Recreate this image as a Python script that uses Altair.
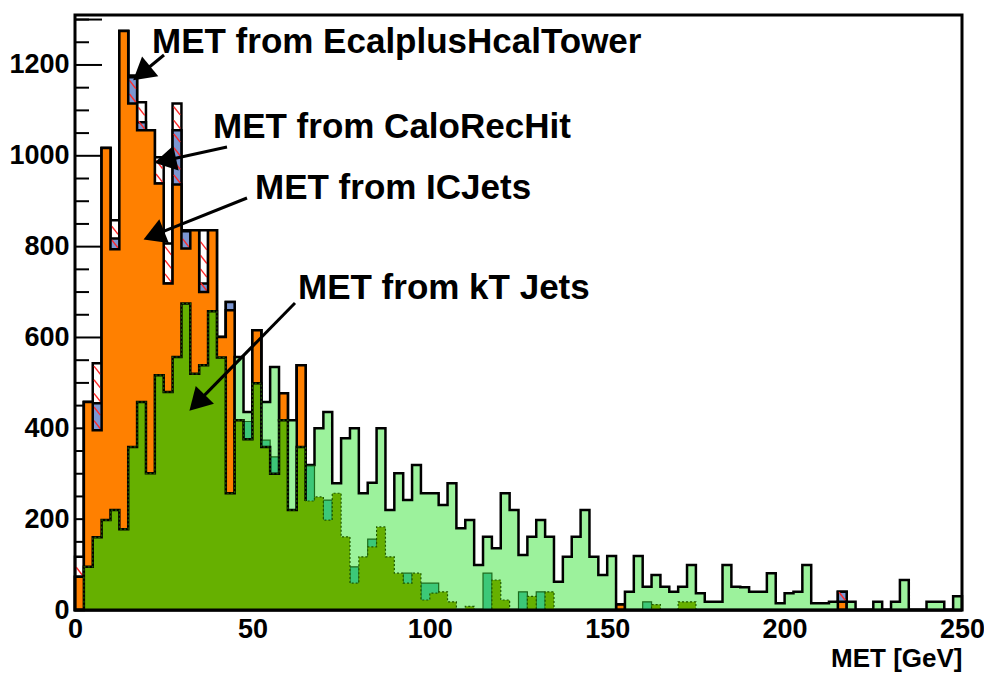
import math
import altair as alt
import pandas as pd

N_BINS = 100
BIN_W = 2.5
X_MAX = 250.0
Y_MAX = 1310.0
PLOT_W = 887
PLOT_H = 595

# ---- histogram contents (100 bins of 2.5 GeV) ----
ic_jets = [73, 458, 396, 1017, 794, 1275, 1115, 1056, 1056, 939,
           719, 937, 796, 836, 700, 836, 601, 660, 380, 360,
           616, 340, 280, 477, 200, 539, 0, 0, 0, 0,
           0, 0, 0, 0, 0, 0, 0, 0, 0, 0,
           0, 0, 0, 0, 0, 0, 0, 0, 0, 0,
           0, 0, 0, 0, 0, 0, 0, 0, 0, 0,
           0, 12, 0, 0, 0, 0, 0, 0, 0, 0,
           0, 0, 0, 0, 0, 0, 0, 0, 0, 0,
           0, 0, 0, 0, 0, 0, 18, 0, 0, 0,
           0, 0, 0, 0, 0, 0, 0, 0, 0, 0]

calo_rechit = [117, 458, 543, 1017, 858, 1275, 1177, 1118, 1056, 997,
               807, 1115, 836, 836, 836, 836, 601, 678, 380, 360,
               616, 340, 280, 477, 200, 539, 0, 0, 0, 0,
               0, 0, 0, 0, 0, 0, 0, 0, 0, 0,
               0, 0, 0, 0, 0, 0, 0, 0, 0, 0,
               0, 0, 0, 0, 0, 0, 0, 0, 0, 0,
               0, 12, 0, 0, 0, 0, 0, 0, 0, 0,
               0, 0, 0, 0, 0, 0, 0, 0, 0, 0,
               0, 0, 0, 0, 0, 0, 40, 0, 0, 0,
               0, 0, 0, 0, 0, 0, 0, 0, 0, 0]

ecal_hcal = [73, 458, 455, 1017, 818, 1275, 1173, 1074, 1056, 939,
             719, 1056, 834, 836, 719, 836, 601, 678, 380, 360,
             616, 340, 280, 477, 200, 539, 0, 0, 0, 0,
             0, 0, 0, 0, 0, 0, 0, 0, 0, 0,
             0, 0, 0, 0, 0, 0, 0, 0, 0, 0,
             0, 0, 0, 0, 0, 0, 0, 0, 0, 0,
             0, 12, 0, 0, 0, 0, 0, 0, 0, 0,
             0, 0, 0, 0, 0, 0, 0, 0, 0, 0,
             0, 0, 0, 0, 0, 0, 40, 0, 0, 0,
             0, 0, 0, 0, 0, 0, 0, 0, 0, 0]

light_green = [0, 0, 0, 0, 0, 0, 0, 0, 0, 0,
               0, 0, 0, 0, 0, 0, 0, 0, 557, 436,
               0, 458, 535, 418, 418, 0, 319, 400, 436, 279,
               378, 400, 257, 280, 400, 220, 301, 242, 319, 257,
               257, 231, 279, 180, 198, 99, 161, 136, 257, 220,
               121, 161, 198, 161, 62, 117, 161, 220, 117, 77,
               119, 0, 40, 119, 51, 77, 51, 40, 51, 99,
               37, 18, 18, 99, 51, 50, 40, 40, 81, 15,
               37, 40, 99, 15, 15, 18, 0, 18, 0, 0,
               18, 0, 18, 66, 0, 0, 18, 18, 0, 30]

medium_green = [0, 0, 0, 0, 0, 0, 0, 0, 0, 0,
                0, 0, 0, 0, 0, 0, 0, 0, 0, 415,
                0, 374, 337, 0, 0, 0, 317, 0, 242, 0,
                0, 95, 0, 156, 0, 0, 0, 81, 0, 59,
                59, 0, 0, 0, 0, 0, 81, 0, 0, 0,
                40, 0, 40, 0, 0, 0, 0, 0, 0, 0,
                0, 0, 0, 0, 18, 0, 0, 0, 0, 0,
                0, 0, 0, 0, 0, 0, 0, 0, 0, 0,
                0, 0, 0, 0, 0, 0, 0, 0, 0, 0,
                0, 0, 0, 0, 0, 0, 0, 0, 0, 0]

kt_jets = [0, 95, 160, 198, 220, 178, 359, 458, 301, 517,
           480, 557, 675, 520, 539, 658, 556, 257, 418, 376,
           499, 359, 300, 418, 220, 359, 240, 249, 198, 257,
           161, 59, 117, 139, 183, 117, 81, 59, 81, 22,
           37, 40, 18, 0, 8, 0, 0, 66, 22, 0,
           0, 30, 0, 40, 0, 0, 0, 0, 0, 0,
           0, 0, 0, 0, 0, 12, 0, 0, 18, 18,
           0, 0, 0, 0, 0, 0, 0, 0, 0, 0,
           0, 0, 0, 0, 0, 0, 0, 0, 0, 0,
           0, 0, 0, 0, 0, 0, 0, 0, 0, 0]

x_tick_labels = [0, 50, 100, 150, 200, 250]
y_tick_labels = [0, 200, 400, 600, 800, 1000, 1200]
y_minor_ticks = [v for v in range(50, 1301, 50) if v % 200 != 0]

labels = ["MET from EcalplusHcalTower", "MET from CaloRecHit",
          "MET from ICJets", "MET from kT Jets"]

# annotation placement (page pixels; plot frame spans x 75..962, y 15..610)
label_px = [(152, 42), (213, 127), (255, 188), (298, 288)]
arrow_tail_px = [(164, 55), (227, 147), (247, 198), (295, 303)]
arrow_tip_px = [(136, 78), (158, 162), (147, 238), (192, 408)]

FONT = "Liberation Sans"

x_scale = alt.Scale(domain=[0, X_MAX], nice=False, zero=False)
y_scale = alt.Scale(domain=[0, Y_MAX], nice=False)

x_axis = alt.Axis(values=x_tick_labels, ticks=False, domain=False, grid=False,
                  labelFont=FONT, labelFontSize=27, labelFontWeight="bold",
                  labelColor="black", labelPadding=6, labelFlush=False,
                  titleFont=FONT, titleFontSize=26, titleFontWeight="bold",
                  titleColor="black", titleX=PLOT_W, titleY=61, titleAlign="right",
                  titleBaseline="bottom", format="d")
y_axis = alt.Axis(values=y_tick_labels, ticks=False, domain=False, grid=False,
                  labelFont=FONT, labelFontSize=27, labelFontWeight="bold",
                  labelColor="black", labelPadding=6, format="d")


def X(field):
    return alt.X(f"{field}:Q", scale=x_scale, axis=x_axis, title="MET [GeV]")


def Y(field):
    return alt.Y(f"{field}:Q", scale=y_scale, axis=y_axis, title="")


def area_frame(vals):
    xs = [i * BIN_W for i in range(N_BINS)] + [N_BINS * BIN_W]
    ys = [float(v) for v in vals] + [float(vals[-1])]
    return pd.DataFrame({"x": xs, "y": ys})


def line_frame(vals, upto=None):
    n = N_BINS if upto is None else upto
    xs = [0.0] + [i * BIN_W for i in range(n)] + [n * BIN_W]
    end_val = 0.0 if upto is None else float(vals[n])
    ys = [0.0] + [float(v) for v in vals[:n]] + [end_val]
    return pd.DataFrame({"x": xs, "y": ys, "i": list(range(len(xs)))})


def hist_area(vals, fill, stroke=None, sw=2.5):
    props = dict(interpolate="step-after", fill=fill, fillOpacity=1, strokeJoin="miter")
    if stroke is not None:
        props.update(stroke=stroke, strokeWidth=sw)
    else:
        props.update(strokeWidth=0)
    return alt.Chart(area_frame(vals)).mark_area(**props).encode(x=X("x"), y=Y("y"))


def hist_line(df, color, sw, dash=None):
    props = dict(interpolate="step-after", color=color, strokeWidth=sw, strokeJoin="miter")
    if dash is not None:
        props.update(strokeDash=dash)
    return alt.Chart(df).mark_line(**props).encode(
        x=X("x"), y=Y("y"), order=alt.Order("i:Q"))


# inner ticks on the y axis
major_df = pd.DataFrame({"v": y_tick_labels + [1300]})
minor_df = pd.DataFrame({"v": y_minor_ticks})
ticks_major = alt.Chart(major_df).mark_rule(color="black", strokeWidth=2).encode(
    y=Y("v"), x=alt.value(0), x2=alt.value(27))
ticks_minor = alt.Chart(minor_df).mark_rule(color="black", strokeWidth=2).encode(
    y=Y("v"), x=alt.value(0), x2=alt.value(14))

# red hatch segments over the CaloRecHit excess
hx, hx2, hy, hy2 = [], [], [], []
for k in range(N_BINS):
    lo = float(ic_jets[k])
    hi = float(calo_rechit[k])
    yv = lo + 12
    while yv + 9 <= hi:
        hx.append(k * BIN_W + 0.35)
        hx2.append(k * BIN_W + 2.15)
        hy.append(yv + 9)
        hy2.append(yv - 9)
        yv += 30
hatch_df = pd.DataFrame({"x": hx, "x2": hx2, "y": hy, "y2": hy2})
hatch = alt.Chart(hatch_df).mark_rule(color="#ff2a2a", strokeWidth=1.4).encode(
    x=X("x"), x2="x2:Q", y=Y("y"), y2="y2:Q")


def px_to_data(px, py):
    return (px - 75) * X_MAX / PLOT_W, (610 - py) * Y_MAX / PLOT_H


txt_rows, shaft_rows, head_rows = [], [], []
for lab, (lx, ly), (tx, ty), (hx_, hy_) in zip(labels, label_px, arrow_tail_px, arrow_tip_px):
    dx, dy = hx_ - tx, hy_ - ty
    ln = math.hypot(dx, dy)
    ux, uy = dx / ln, dy / ln
    cx, cy = hx_ - 11 * ux, hy_ - 11 * uy
    ang = math.degrees(math.atan2(ux, -uy)) % 360
    a, b = px_to_data(lx, ly)
    txt_rows.append({"x": a, "y": b, "label": lab})
    a1, b1 = px_to_data(tx, ty)
    a2, b2 = px_to_data(cx, cy)
    shaft_rows.append({"x": a1, "y": b1, "x2": a2, "y2": b2})
    head_rows.append({"x": a2, "y": b2, "ang": ang})

texts = alt.Chart(pd.DataFrame(txt_rows)).mark_text(
    align="left", baseline="middle", font=FONT, fontWeight="bold", fontSize=35,
    color="black").encode(x=X("x"), y=Y("y"), text="label:N")
shafts = alt.Chart(pd.DataFrame(shaft_rows)).mark_rule(color="black", strokeWidth=3).encode(
    x=X("x"), x2="x2:Q", y=Y("y"), y2="y2:Q")
heads = alt.Chart(pd.DataFrame(head_rows)).mark_point(
    shape="triangle", filled=True, size=650, color="black", opacity=1, strokeWidth=0).encode(
    x=X("x"), y=Y("y"), angle=alt.Angle("ang:Q", scale=None))

frame = alt.Chart(pd.DataFrame({"a": [0]})).mark_rect(
    fillOpacity=0, stroke="black", strokeWidth=3).encode(
    x=alt.value(0), x2=alt.value(PLOT_W), y=alt.value(0), y2=alt.value(PLOT_H))

layers = [
    ticks_major, ticks_minor,
    hist_area(calo_rechit, "white", "black", 2.5),
    hist_area(ecal_hcal, "#7b96d2", "black", 2.5),
    hatch,
    hist_area(ic_jets, "#ff8000", "black", 2.5),
    hist_area(light_green, "#9cf29c", "black", 2.5),
    hist_area(medium_green, "#3cc878", "#1d6b1d", 1.2),
    hist_area(kt_jets, "#66b000"),
    hist_line(line_frame(kt_jets, upto=26), "black", 2.5),
    hist_line(line_frame(kt_jets), "#1f5a00", 1.2, dash=[2, 2]),
    shafts, heads, texts, frame,
]

chart = alt.layer(*layers).properties(
    width=PLOT_W, height=PLOT_H,
    padding={"left": 67, "top": 7, "right": 22, "bottom": 64},
    autosize=alt.AutoSizeParams(type="none"),
).configure_view(strokeWidth=0).configure(background="white")

chart.save("out.html", embed_options={"renderer": "svg", "actions": False})
